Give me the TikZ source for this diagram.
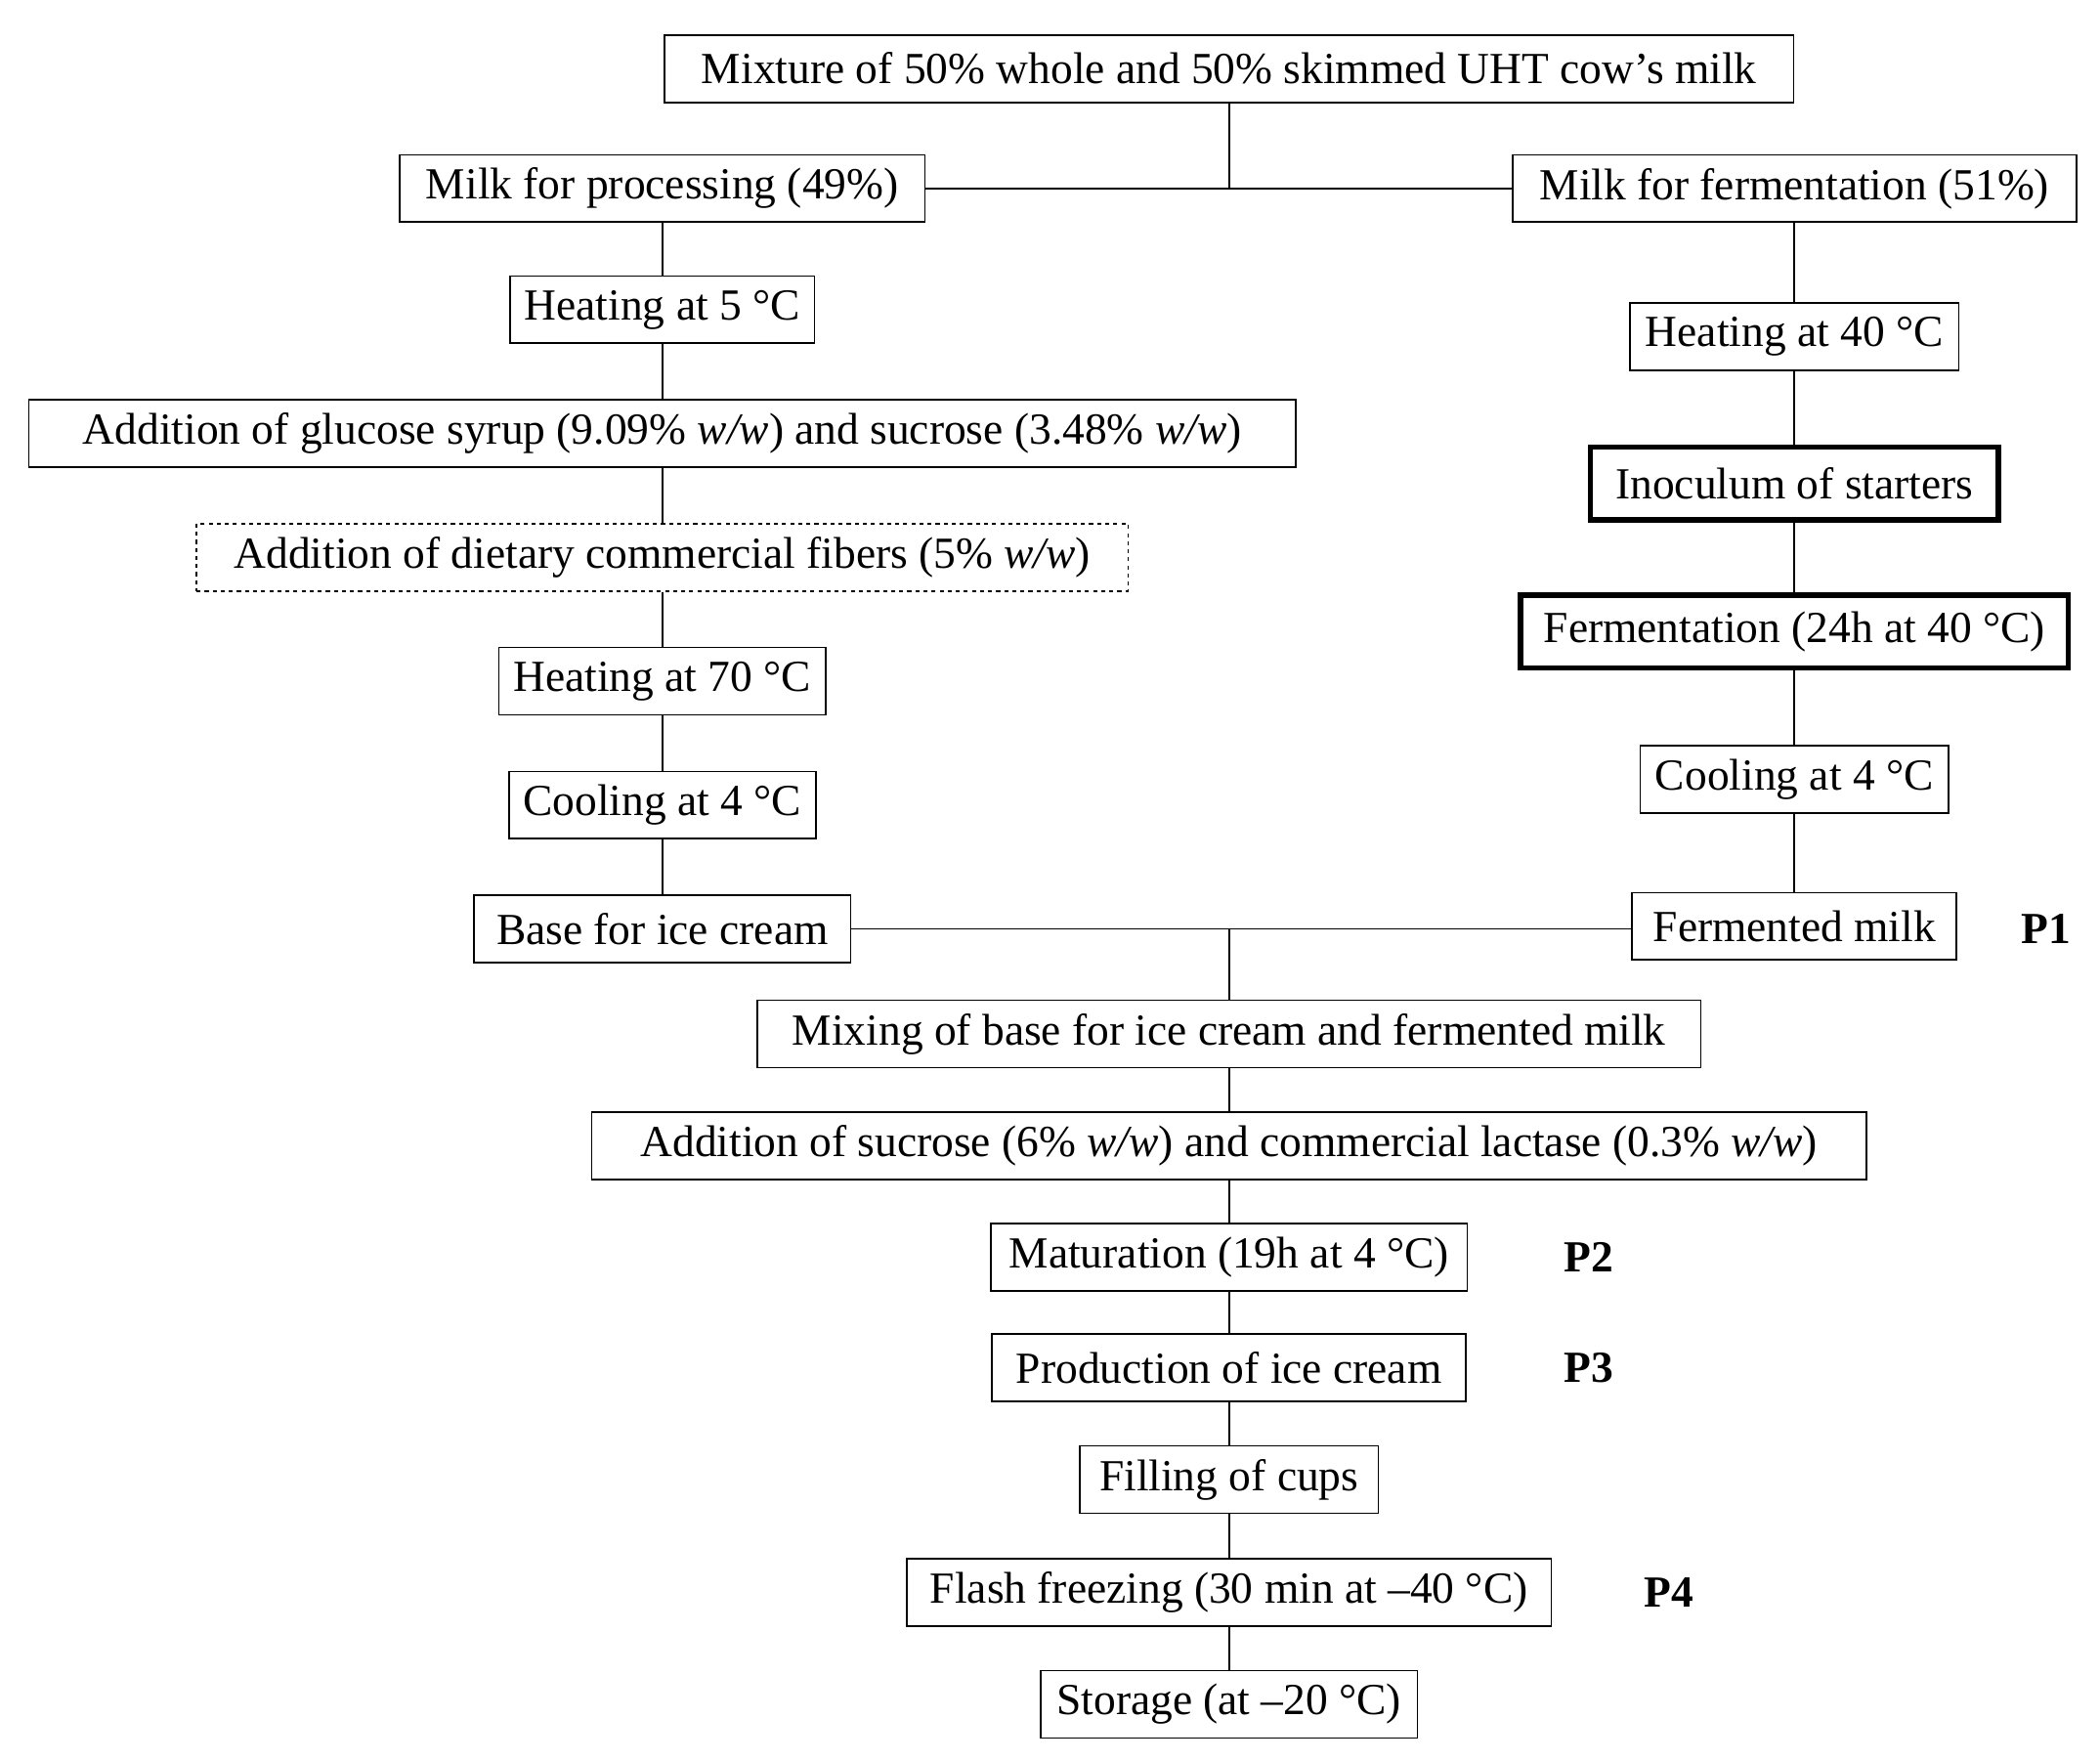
\documentclass[tikz,border=0pt]{standalone}
\usepackage{fontspec}
\setmainfont{Liberation Serif}
\begin{document}
\begin{tikzpicture}[x=0.5pt,y=-0.5pt,
 b/.style={draw,line width=0.6pt,minimum height=25pt,inner sep=0pt,font=\fontsize{16.5}{18}\selectfont},
 tk/.style={b,line width=2pt},
 ds/.style={b,dashed,dash pattern=on 1.5pt off 1.5pt},
 p/.style={font=\fontsize{16.5}{18}\selectfont\bfseries},
 every path/.style={line width=0.6pt}]
\useasboundingbox (0,0) rectangle (1560,1308);
\node[b,minimum width=419.5pt] (top) at (913,51) {Mixture of 50\% whole and 50\% skimmed UHT cow's milk};
\node[b,minimum width=195pt] (proc) at (492,140) {Milk for processing (49\%)};
\node[b,minimum width=209.5pt] (ferm) at (1333,140) {Milk for fermentation (51\%)};
\node[b,minimum width=113pt] (h5) at (492,230) {Heating at 5 °C};
\node[b,minimum width=122pt] (h40) at (1333,250) {Heating at 40 °C};
\node[b,minimum width=470.5pt] (glu) at (492,322) {Addition of glucose syrup (9.09\% \textit{w/w}) and sucrose (3.48\% \textit{w/w})};
\node[tk,minimum width=151.5pt,minimum height=27pt] (inoc) at (1333,359) {Inoculum of starters};
\node[ds,minimum width=346pt] (fib) at (492,414) {Addition of dietary commercial fibers (5\% \textit{w/w})};
\node[tk,minimum width=203.5pt,minimum height=27pt] (fer) at (1333,469) {Fermentation (24h at 40 °C)};
\node[b,minimum width=121.5pt] (h70) at (492,506) {Heating at 70 °C};
\node[b,minimum width=114pt] (c4l) at (492,598) {Cooling at 4 °C};
\node[b,minimum width=114.5pt] (c4r) at (1333,579) {Cooling at 4 °C};
\node[b,minimum width=140pt] (base) at (492,690) {Base for ice cream};
\node[b,minimum width=120.5pt] (fm) at (1333,688) {Fermented milk};
\node[p] (p1) at (1520,690) {P1};
\node[b,minimum width=350.5pt] (mix) at (913,768) {Mixing of base for ice cream and fermented milk};
\node[b,minimum width=473.5pt] (suc) at (913,851) {Addition of sucrose (6\% \textit{w/w}) and commercial lactase (0.3\% \textit{w/w})};
\node[b,minimum width=177pt] (mat) at (913,934) {Maturation (19h at 4 °C)};
\node[p] (p2) at (1180,934) {P2};
\node[b,minimum width=176pt] (prod) at (913,1016) {Production of ice cream};
\node[p] (p3) at (1180,1016) {P3};
\node[b,minimum width=111pt] (fill) at (913,1099) {Filling of cups};
\node[b,minimum width=239.5pt] (fl) at (913,1183) {Flash freezing (30 min at \textendash40 °C)};
\node[p] (p4) at (1240,1183) {P4};
\node[b,minimum width=140pt] (st) at (913,1266) {Storage (at \textendash20 °C)};
\coordinate (j1) at (913,140);
\coordinate (j2) at (913,690);
\draw (top) -- (j1);
\draw (proc) -- (ferm);
\draw (proc) -- (h5) -- (glu) -- (fib) -- (h70) -- (c4l) -- (base);
\draw (ferm) -- (h40) -- (inoc) -- (fer) -- (c4r) -- (fm);
\draw (base.east) -- (fm.west |- base.east);
\draw (j2) -- (mix);
\draw (mix) -- (suc) -- (mat) -- (prod) -- (fill) -- (fl) -- (st);
\end{tikzpicture}
\end{document}
